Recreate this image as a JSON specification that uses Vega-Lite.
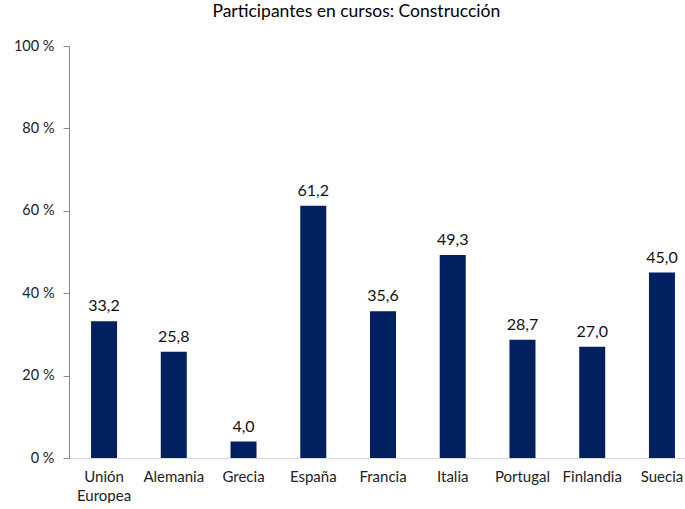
{
  "$schema": "https://vega.github.io/schema/vega-lite/v6.json",
  "width": 628,
  "height": 412,
  "padding": {"left": 13, "top": 2, "right": 0, "bottom": 0},
  "autosize": {"type": "pad"},
  "background": "white",
  "config": {
    "font": "Lato",
    "view": {"stroke": null},
    "locale": {"number": {"decimal": ",", "thousands": ".", "grouping": [3], "currency": ["", " €"]}}
  },
  "title": {
    "text": "Participantes en cursos: Construcción",
    "font": "Lato",
    "fontSize": 17.5,
    "fontWeight": "normal",
    "color": "#000000",
    "anchor": "start",
    "dx": 199,
    "offset": 18
  },
  "data": {
    "values": [
      {"pais": "Unión Europea", "valor": 33.2},
      {"pais": "Alemania", "valor": 25.8},
      {"pais": "Grecia", "valor": 4.0},
      {"pais": "España", "valor": 61.2},
      {"pais": "Francia", "valor": 35.6},
      {"pais": "Italia", "valor": 49.3},
      {"pais": "Portugal", "valor": 28.7},
      {"pais": "Finlandia", "valor": 27.0},
      {"pais": "Suecia", "valor": 45.0}
    ]
  },
  "encoding": {
    "x": {
      "field": "pais",
      "type": "nominal",
      "sort": null,
      "scale": {"paddingInner": 0.627, "paddingOuter": 0.316},
      "axis": {
        "title": null,
        "labelAngle": 0,
        "ticks": false,
        "domainColor": "#d9d9d9",
        "labelFont": "Lato",
        "labelFontSize": 15,
        "labelColor": "#222222",
        "labelPadding": 11,
        "labelLineHeight": 19,
        "labelExpr": "datum.value == 'Unión Europea' ? ['Unión', 'Europea'] : datum.value"
      }
    },
    "y": {
      "field": "valor",
      "type": "quantitative",
      "scale": {"domain": [0, 100]},
      "axis": {
        "title": null,
        "values": [0, 20, 40, 60, 80, 100],
        "grid": false,
        "tickSize": 6,
        "tickColor": "#888888",
        "domainColor": "#888888",
        "labelFont": "Lato",
        "labelFontSize": 14.5,
        "labelColor": "#222222",
        "labelPadding": 9,
        "labelExpr": "datum.value + ' %'"
      }
    }
  },
  "layer": [
    {"mark": {"type": "bar", "color": "#002060"}},
    {
      "mark": {"type": "text", "dy": -15, "fontSize": 16, "font": "Lato", "color": "#111111"},
      "encoding": {"text": {"field": "valor", "type": "quantitative", "format": ".1f"}}
    }
  ]
}
